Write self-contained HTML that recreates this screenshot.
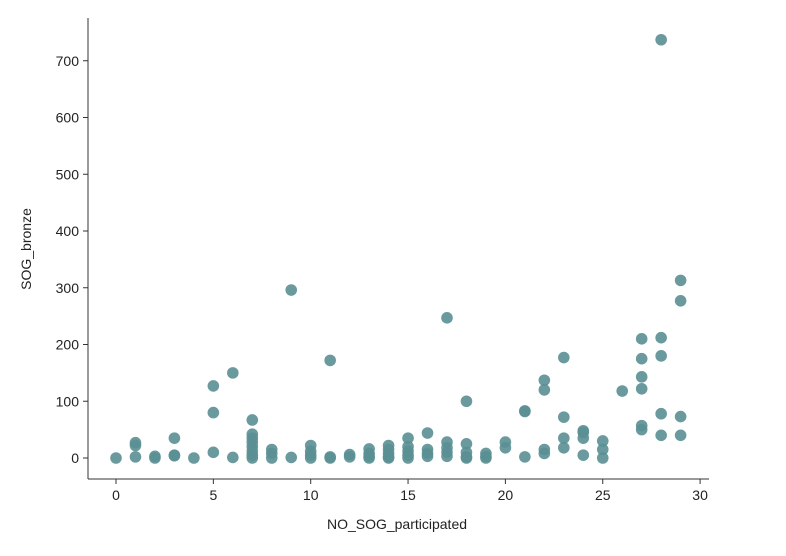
<!DOCTYPE html>
<html><head><meta charset="utf-8"><style>
body{margin:0;background:#fff;}
svg{display:block;font-family:"Liberation Sans","DejaVu Sans",sans-serif;}
</style></head><body>
<svg id="s" width="786" height="556" xmlns="http://www.w3.org/2000/svg">
<line x1="88" y1="18" x2="88" y2="479" stroke="#333" stroke-width="1"/>
<line x1="88" y1="479" x2="709" y2="479" stroke="#333" stroke-width="1"/>
<g id="t" font-size="14" fill="#222"></g>
<g id="p" fill="#5a8f94" fill-opacity="0.9"></g>
<text x="397" y="529" font-size="14" text-anchor="middle" fill="#222">NO_SOG_participated</text>
<text transform="translate(31,249) rotate(-90)" font-size="14" text-anchor="middle" fill="#222">SOG_bronze</text>
</svg>
<script>
var ns="http://www.w3.org/2000/svg";
function X(x){return 116+19.47*x;}function Y(y){return 458-0.5675*y;}
var t=document.getElementById('t');
function el(n,a,p,txt){var e=document.createElementNS(ns,n);for(var k in a)e.setAttribute(k,a[k]);if(txt!==undefined)e.textContent=txt;p.appendChild(e);}
for(var i=0;i<=30;i+=5){el('line',{x1:X(i),x2:X(i),y1:479,y2:484,stroke:'#333'},t);el('text',{x:X(i),y:500,'text-anchor':'middle'},t,i);}
for(var j=0;j<=700;j+=100){el('line',{x1:83,x2:88,y1:Y(j),y2:Y(j),stroke:'#333'},t);el('text',{x:79,y:Y(j)+5,'text-anchor':'end'},t,j);}
var d={0:[0],1:[27,22,2],2:[3,0],3:[35,5,4],4:[0],5:[127,80,10],6:[150,1],7:[67,42,35,28,20,12,5,0],8:[15,8,0],9:[296,1],10:[22,12,5,0],11:[172,2,0],12:[6,2],13:[16,8,3,0],14:[22,15,8,2,0],15:[35,20,12,5,0],16:[44,15,8,3],17:[247,28,18,10,3],18:[100,25,10,2,0],19:[8,3,0],20:[28,18],21:[83,82,2],22:[137,120,15,8],23:[177,72,35,18],24:[48,45,35,5],25:[30,15,0],26:[118],27:[210,175,143,122,57,50],28:[737,212,180,78,40],29:[313,277,73,40]};
var p=document.getElementById('p');
for(var k in d)d[k].forEach(function(v){el('circle',{cx:X(+k),cy:Y(v),r:5.8},p);});
</script>
</body></html>
